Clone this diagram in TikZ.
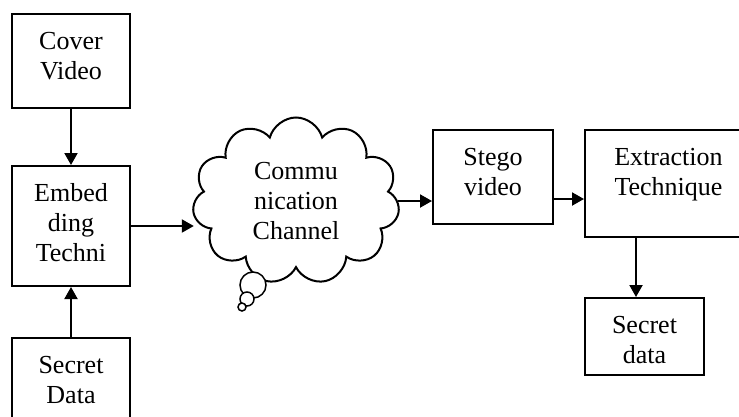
\documentclass[tikz,border=0pt]{standalone}
\usepackage{fontspec}
\setmainfont{Liberation Serif}
\usetikzlibrary{positioning,shapes.symbols,arrows.meta}

\begin{document}
\begin{tikzpicture}[->,x=1pt,y=-1pt,line width=2pt,
    font=\fontsize{26}{30}\selectfont,
    >={Triangle[length=12pt,width=13pt]},
    proc/.style={draw, rectangle, align=center, inner sep=0pt, text height=65pt},
    chan/.style={draw, cloud, cloud puffs=11, cloud ignores aspect, align=center, inner sep=0pt},
    bubble/.style={draw, circle, fill=white, inner sep=0pt, line width=1.5pt}]

    \useasboundingbox (0,0) rectangle (739,416);

    \node[proc, minimum width=118pt, text depth=29pt, anchor=north] (cover) at (71,13)
    { Cover\\Video };

    \node[proc, minimum width=118pt, text height=95pt, text depth=25pt, below=56pt of cover] (embed)
    { Embed\\ding\\Techni };

    \node[proc, minimum width=118pt, text depth=30pt, below=50pt of embed] (secret)
    { Secret\\Data };

    %------------------------------------------------

    \node[chan, minimum width=207pt, minimum height=167pt] (channel) at (296,201)
    { Commu\\nication\\Channel };

    \node[bubble, minimum size=26pt] (bubA) at (253,285) {};
    \node[bubble, minimum size=14pt] (bubB) at (247,299) {};
    \node[bubble, minimum size=8pt] (bubC) at (242,307) {};

    %------------------------------------------------

    \node[proc, minimum width=120pt, text depth=29pt, anchor=north] (stego) at (493,129)
    { Stego\\video };

    \node[proc, minimum width=167pt, text depth=42pt, right=30pt of stego.north east, anchor=north west] (extract)
    { Extraction\\Technique };

    \node[proc, minimum width=119pt, text depth=12pt, below right=59pt and 0pt of extract.south west] (data)
    { Secret\\data };

    \path[]
    {
        (cover) edge (embed)
        (secret) edge (embed)
        (embed.east) edge (embed.east -| channel.west)
        (channel.east) edge (channel.east -| stego.west)
        ([yshift=-22pt]stego.east) edge ([yshift=-22pt]stego.east -| extract.west)
        ([xshift=52pt]extract.south west) edge ([xshift=52pt]data.north west)
    };
\end{tikzpicture}
\end{document}
